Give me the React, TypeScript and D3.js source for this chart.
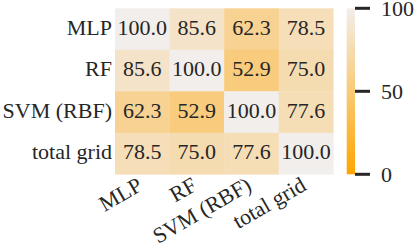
import { useMemo } from "react";
import { interpolateRgb, scaleBand, scaleLinear, scaleSequential } from "d3";

const totalWidth = 416;
const totalHeight = 252;
const gridLeft = 115;
const gridTop = 8.3;
const gridWidth = 218.3;
const gridHeight = 166;
const barLeft = 346.7;
const barWidth = 8.3;
const tickLength = 15;
const fontSize = 22;
const font = "Liberation Serif, Times New Roman, Times, serif";
const textColor = "#262626";

const models = ["MLP", "RF", "SVM (RBF)", "total grid"];
const agreement = [
  [100.0, 85.6, 62.3, 78.5],
  [85.6, 100.0, 52.9, 75.0],
  [62.3, 52.9, 100.0, 77.6],
  [78.5, 75.0, 77.6, 100.0],
];
const colorTicks = [0, 50, 100];

const textStyle = { fontFamily: font, fontSize: `${fontSize}px` };

export default function App() {
  const { xScale, yScale, color, barScale, gradientStops } = useMemo(() => {
    const xScale = scaleBand<string>()
      .domain(models)
      .range([gridLeft, gridLeft + gridWidth]);
    const yScale = scaleBand<string>()
      .domain(models)
      .range([gridTop, gridTop + gridHeight]);
    // orange -> off-white, linear in RGB
    const color = scaleSequential(interpolateRgb("#FFA500", "#F2EEEB")).domain([0, 100]);
    const barScale = scaleLinear()
      .domain([0, 100])
      .range([gridTop + gridHeight, gridTop]);
    const gradientStops = [0, 0.25, 0.5, 0.75, 1].map((t) => ({
      offset: t,
      color: color(100 - t * 100),
    }));
    return { xScale, yScale, color, barScale, gradientStops };
  }, []);

  const bw = xScale.bandwidth();
  const bh = yScale.bandwidth();

  return (
    <svg
      width={totalWidth}
      height={totalHeight}
      style={{ position: "absolute", left: 0, top: 0 }}
    >
      <defs>
        <linearGradient id="cbar" x1="0" y1="0" x2="0" y2="1">
          {gradientStops.map((s) => (
            <stop key={s.offset} offset={s.offset} stopColor={s.color} />
          ))}
        </linearGradient>
      </defs>

      {agreement.map((row, i) =>
        row.map((v, j) => (
          <g key={`${i}-${j}`}>
            <rect
              x={xScale(models[j])}
              y={yScale(models[i])}
              width={bw + 0.3}
              height={bh + 0.3}
              fill={color(v)}
            />
            <text
              x={(xScale(models[j]) ?? 0) + bw / 2}
              y={(yScale(models[i]) ?? 0) + bh / 2}
              dy="0.27em"
              textAnchor="middle"
              fill={textColor}
              style={textStyle}
            >
              {v.toFixed(1)}
            </text>
          </g>
        )),
      )}

      {models.map((m) => (
        <text
          key={`row-${m}`}
          x={gridLeft - 3}
          y={(yScale(m) ?? 0) + bh / 2}
          dy="0.27em"
          textAnchor="end"
          fill={textColor}
          style={textStyle}
        >
          {m}
        </text>
      ))}

      {models.map((m) => {
        const x = (xScale(m) ?? 0) + bw / 2 + 1.5;
        const y = gridTop + gridHeight + 15;
        return (
          <text
            key={`col-${m}`}
            transform={`translate(${x},${y}) rotate(-30)`}
            textAnchor="end"
            fill={textColor}
            style={textStyle}
          >
            {m}
          </text>
        );
      })}

      <rect
        x={barLeft}
        y={gridTop}
        width={barWidth}
        height={gridHeight}
        fill="url(#cbar)"
      />
      {colorTicks.map((t) => (
        <g key={`tick-${t}`}>
          <line
            x1={barLeft + barWidth}
            x2={barLeft + barWidth + tickLength}
            y1={barScale(t)}
            y2={barScale(t)}
            stroke="#262626"
            strokeWidth={3}
          />
          <text
            x={barLeft + barWidth + tickLength + 11}
            y={barScale(t)}
            dy="0.35em"
            fill={textColor}
            style={textStyle}
          >
            {t}
          </text>
        </g>
      ))}
    </svg>
  );
}
